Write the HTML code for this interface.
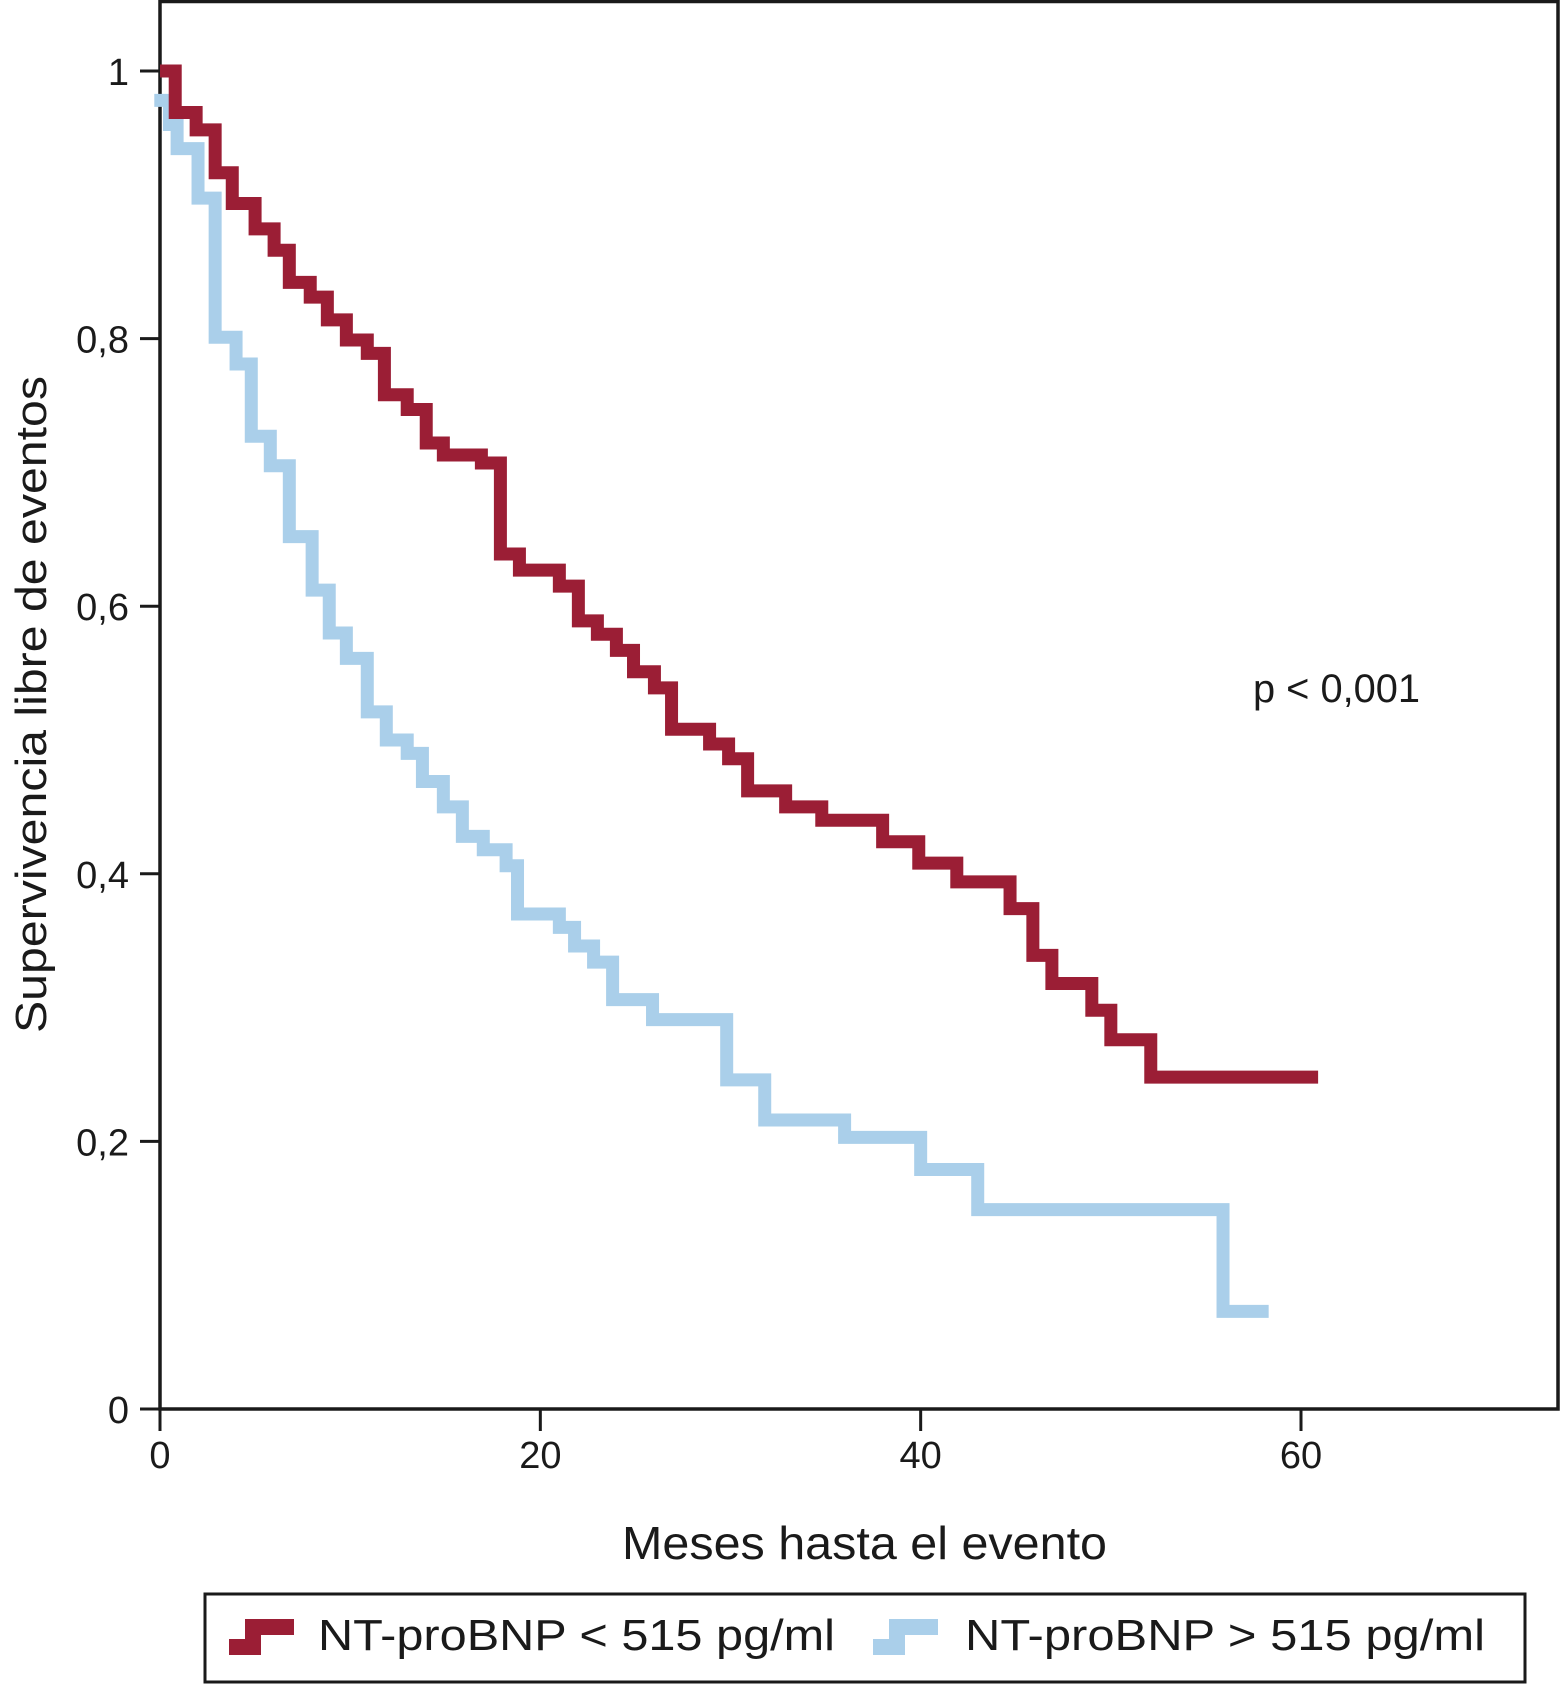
<!DOCTYPE html>
<html><head><meta charset="utf-8"><style>
html,body{margin:0;padding:0;background:#fff;}
svg{display:block;font-family:"Liberation Sans",Arial,sans-serif;}
</style></head><body>
<svg id="chart" width="1561" height="1684" viewBox="0 0 1561 1684" xmlns="http://www.w3.org/2000/svg">
<rect x="160" y="1.5" width="1398" height="1407.5" fill="none" stroke="#1a1a1a" stroke-width="3.5"/>
<g id="axes"></g>
<g id="series"></g>
<text x="1253" y="702" font-size="40" fill="#1a1a1a" textLength="167" lengthAdjust="spacingAndGlyphs">p &lt; 0,001</text>
<text x="622" y="1559" font-size="46" fill="#1a1a1a" textLength="485" lengthAdjust="spacingAndGlyphs">Meses hasta el evento</text>
<text transform="translate(46,1033) rotate(-90)" x="0" y="0" font-size="44" fill="#1a1a1a" textLength="657" lengthAdjust="spacingAndGlyphs">Supervivencia libre de eventos</text>
<g>
<rect x="205" y="1594" width="1320" height="88" fill="none" stroke="#1a1a1a" stroke-width="3"/>
<path d="M229,1647 H253 V1627 H294" fill="none" stroke="#9b1e35" stroke-width="16"/>
<text x="318" y="1650" font-size="44" fill="#1a1a1a" textLength="517" lengthAdjust="spacingAndGlyphs">NT-proBNP &lt; 515 pg/ml</text>
<path d="M873,1647 H897 V1627 H938" fill="none" stroke="#aacfea" stroke-width="16"/>
<text x="965" y="1650" font-size="44" fill="#1a1a1a" textLength="520" lengthAdjust="spacingAndGlyphs">NT-proBNP &gt; 515 pg/ml</text>
</g>
</svg>
<script>
const xTicks = [0, 20, 40, 60];
const xTickLabels = ["0", "20", "40", "60"];
const yTicks = [0, 0.2, 0.4, 0.6, 0.8, 1];
const yTickLabels = ["0", "0,2", "0,4", "0,6", "0,8", "1"];
const lowTimes = [0, 0.8, 1.9, 2.9, 3.8, 5.0, 6.0, 6.8, 7.9, 8.8, 9.8, 10.9, 11.8, 13.0, 14.0, 14.9, 16.9, 17.9, 18.9, 21.0, 22.0, 23.0, 24.0, 24.9, 26.0, 26.9, 28.9, 29.9, 30.9, 32.9, 34.8, 38.0, 39.9, 41.9, 44.7, 45.9, 46.9, 49.0, 50.0, 52.1];
const lowValues = [1.0, 0.969, 0.956, 0.924, 0.901, 0.882, 0.866, 0.842, 0.831, 0.814, 0.799, 0.789, 0.758, 0.747, 0.722, 0.713, 0.707, 0.639, 0.627, 0.615, 0.589, 0.579, 0.567, 0.551, 0.539, 0.508, 0.497, 0.486, 0.462, 0.450, 0.440, 0.424, 0.408, 0.394, 0.374, 0.339, 0.318, 0.298, 0.276, 0.248];
const lowEnd = 60.9;
const highTimes = [-0.3, 0.5, 0.9, 2.0, 2.9, 4.0, 4.8, 5.8, 6.8, 8.0, 8.9, 9.8, 10.9, 11.9, 13.0, 13.8, 14.9, 15.9, 17.0, 18.2, 18.8, 21.0, 21.8, 22.8, 23.8, 25.9, 29.8, 31.8, 36.0, 40.0, 43.0, 55.9];
const highValues = [0.978, 0.960, 0.942, 0.905, 0.801, 0.781, 0.727, 0.705, 0.652, 0.612, 0.580, 0.561, 0.521, 0.500, 0.490, 0.469, 0.450, 0.428, 0.418, 0.406, 0.370, 0.360, 0.346, 0.334, 0.306, 0.291, 0.246, 0.216, 0.203, 0.179, 0.149, 0.073];
const highEnd = 58.3;

const NS = "http://www.w3.org/2000/svg";
function xs(t){ return 160 + t * (1301 - 160) / 60; }
function ys(v){ return 1409 - v * (1409 - 71); }
function mk(tag, attrs, parent){ const e = document.createElementNS(NS, tag); for (const k in attrs) e.setAttribute(k, attrs[k]); parent.appendChild(e); return e; }

const axes = document.getElementById('axes');
xTicks.forEach((t, i) => {
  const l = mk('line', {x1: xs(t), x2: xs(t), y1: 1409, y2: 1431, stroke: '#1a1a1a', 'stroke-width': 3}, axes);
  
  
  const tx = mk('text', {x: xs(t), y: 1468, 'font-size': 38, 'text-anchor': 'middle', fill: '#1a1a1a'}, axes);
  tx.textContent = xTickLabels[i];
  
  
});
yTicks.forEach((v, i) => {
  const l = mk('line', {x1: 140, x2: 160, y1: ys(v), y2: ys(v), stroke: '#1a1a1a', 'stroke-width': 3}, axes);
  
  
  const tx = mk('text', {x: 129, y: ys(v) + 14, 'font-size': 38, 'text-anchor': 'end', fill: '#1a1a1a'}, axes);
  tx.textContent = yTickLabels[i];
  
  
});

function stepPath(times, vals, end){
  let d = 'M' + xs(times[0]) + ',' + ys(vals[0]);
  for (let i = 1; i < times.length; i++) {
    d += ' H' + xs(times[i]) + ' V' + ys(vals[i]);
  }
  d += ' H' + xs(end);
  return d;
}
const series = document.getElementById('series');
const hp = mk('path', {d: stepPath(highTimes, highValues, highEnd), fill: 'none', stroke: '#aacfea', 'stroke-width': 13}, series);


const lp = mk('path', {d: stepPath(lowTimes, lowValues, lowEnd), fill: 'none', stroke: '#9b1e35', 'stroke-width': 13}, series);


</script>
</body></html>
